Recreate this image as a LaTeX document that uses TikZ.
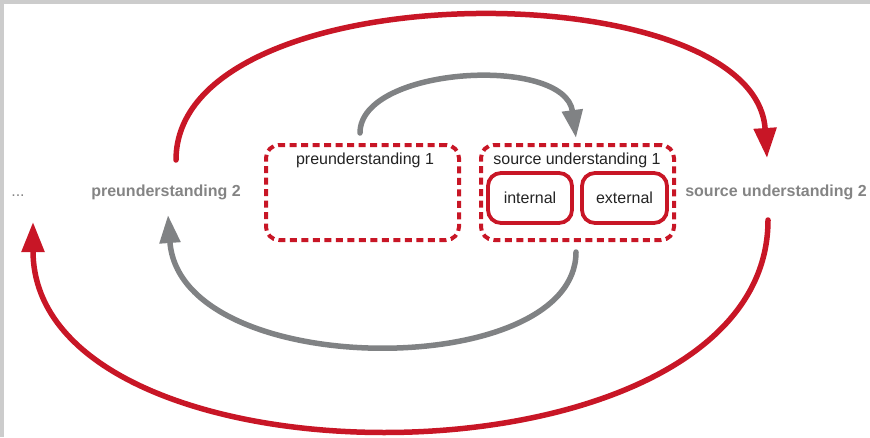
\documentclass[tikz,border=0pt]{standalone}
\usepackage{fontspec}
\setmainfont{Liberation Sans}
\usetikzlibrary{arrows.meta}
\definecolor{myred}{RGB}{200,22,38}
\definecolor{arrgray}{RGB}{128,130,132}
\definecolor{txtgray}{RGB}{132,132,132}
\definecolor{framegray}{RGB}{204,204,204}
\definecolor{txtdark}{RGB}{35,35,35}
\tikzset{
  fs/.style={font=\fontsize{16}{19}\selectfont},
  outerlbl/.style={fs, text=txtgray, font=\fontsize{16}{19}\selectfont\bfseries, inner sep=0pt},
  dotslbl/.style={fs, text=txtgray, inner sep=0pt},
  dashbox/.style={draw=myred, line width=4pt, dash pattern=on 7pt off 4.5pt, rounded corners=13pt, minimum width=193pt, minimum height=95pt, inner sep=0pt},
  solidbox/.style={draw=myred, line width=3.8pt, rounded corners=13pt, minimum height=50pt, inner sep=0pt, fs, text=txtdark},
  boxlbl/.style={fs, text=txtdark, inner sep=0pt},
  redarrow/.style={draw=myred, line width=5.5pt, line cap=round, -{Triangle[length=30pt,width=22pt]}},
  grayarrow/.style={draw=arrgray, line width=5.5pt, line cap=round, -{Triangle[length=28pt,width=20pt]}}
}
\begin{document}
\begin{tikzpicture}[x=1pt,y=-1pt]
\useasboundingbox (0,0) rectangle (870,437);
\fill[framegray] (0,0) rectangle (870,4);
\fill[framegray] (0,0) rectangle (4,437);

% text nodes
\node[dotslbl] (dots) at (18,196) {...};
\node[outerlbl] (pu2) at (166,192) {preunderstanding 2};
\node[outerlbl] (su2) at (776,192) {source understanding 2};

% dashed boxes
\node[dashbox] (b1) at (362.5,192.5) {};
\node[boxlbl] (b1lbl) at (365,160) {preunderstanding 1};
\node[dashbox] (b2) at (577.5,192.5) {};
\node[boxlbl] (b2lbl) at (577,160) {source understanding 1};

% inner boxes
\node[solidbox, minimum width=84pt] (int) at (530,198) {internal};
\node[solidbox, minimum width=85pt] (ext) at (624.5,198) {external};

% connector end points
\coordinate (rtS) at (176,160);
\coordinate (rtE) at (767,158);
\coordinate (rbS) at (768,220);
\coordinate (rbE) at (33,222);
\coordinate (gtS) at (360,133);
\coordinate (gtE) at (576,138);
\coordinate (gbS) at (576,252);
\coordinate (gbE) at (168,215);

% red arrows
\draw[redarrow] (rtS) .. controls (176,-30) and (755,-30) .. (rtE);
\draw[redarrow] (rbS) .. controls (768,498) and (33,498) .. (rbE);

% gray arrows
\draw[grayarrow] (gtS) .. controls (360,66) and (565,55) .. (gtE);
\draw[grayarrow] (gbS) .. controls (576,382) and (180,382) .. (gbE);
\end{tikzpicture}
\end{document}
